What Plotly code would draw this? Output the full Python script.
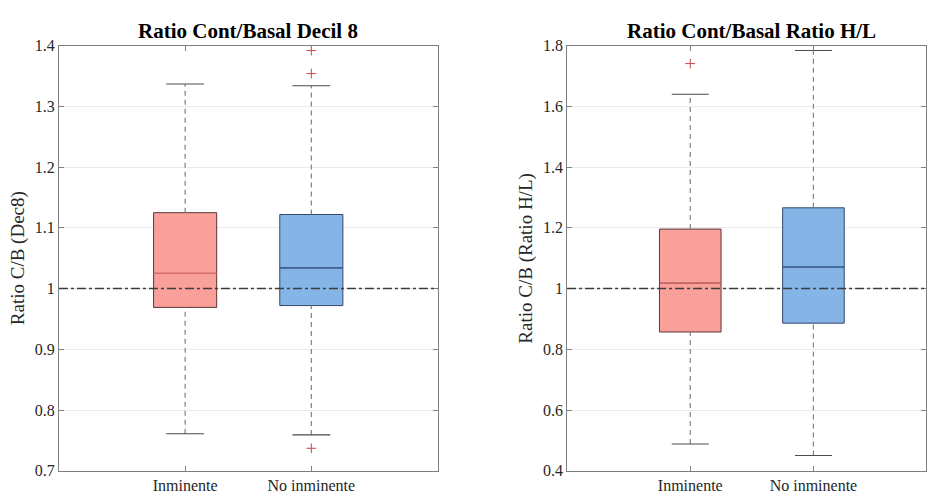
import plotly.graph_objects as go

# ---------------- data ----------------
categories = ["Inminente", "No inminente"]
positions = [1, 2]

dec8_q1 = [0.969, 0.972]
dec8_median = [1.025, 1.034]
dec8_q3 = [1.125, 1.122]
dec8_lower = [0.761, 0.759]
dec8_upper = [1.337, 1.334]
dec8_outliers = [[], [1.392, 1.354, 0.737]]

hl_q1 = [0.857, 0.886]
hl_median = [1.018, 1.071]
hl_q3 = [1.196, 1.266]
hl_lower = [0.488, 0.450]
hl_upper = [1.640, 1.784]
hl_outliers = [[1.741], []]

reference_value = 1.0

dec8_ticks = [0.7, 0.8, 0.9, 1.0, 1.1, 1.2, 1.3, 1.4]
dec8_ticktext = ["0.7", "0.8", "0.9", "1", "1.1", "1.2", "1.3", "1.4"]
hl_ticks = [0.4, 0.6, 0.8, 1.0, 1.2, 1.4, 1.6, 1.8]
hl_ticktext = ["0.4", "0.6", "0.8", "1", "1.2", "1.4", "1.6", "1.8"]

titles = ["Ratio Cont/Basal Decil 8", "Ratio Cont/Basal Ratio H/L"]
ylabels = ["Ratio C/B (Dec8)", "Ratio C/B (Ratio H/L)"]

# ---------------- styles ----------------
FONT = "Liberation Serif, Times New Roman, serif"
fills = ["#F9A09B", "#85B5E6"]
edges = ["#5E3434", "#34476A"]
medians = ["#D46A6A", "#3B5A93"]
W = 927
H = 501

fig = go.Figure()


def add_panel(xa, ya, q1, med, q3, lo, up, outl):
    for i, p in enumerate(positions):
        fig.add_trace(go.Box(
            x=[p], q1=[q1[i]], median=[med[i]], q3=[q3[i]],
            lowerfence=[q1[i]], upperfence=[q3[i]],
            width=0.5, whiskerwidth=0, fillcolor=fills[i],
            line=dict(color=edges[i], width=1),
            boxpoints=False, showlegend=False, hoverinfo="skip",
            xaxis=xa, yaxis=ya))
        # median line
        fig.add_trace(go.Scatter(
            x=[p - 0.25, p + 0.25], y=[med[i], med[i]], mode="lines",
            line=dict(color=medians[i], width=1.2),
            showlegend=False, hoverinfo="skip", xaxis=xa, yaxis=ya))
        # whiskers (dashed)
        fig.add_trace(go.Scatter(
            x=[p, p, None, p, p], y=[lo[i], q1[i], None, q3[i], up[i]],
            mode="lines", line=dict(color="#808080", width=1.2, dash="5px,4px"),
            showlegend=False, hoverinfo="skip", xaxis=xa, yaxis=ya))
        # caps
        fig.add_trace(go.Scatter(
            x=[p - 0.15, p + 0.15, None, p - 0.15, p + 0.15],
            y=[up[i], up[i], None, lo[i], lo[i]],
            mode="lines", line=dict(color="#4A4A4A", width=1.1),
            showlegend=False, hoverinfo="skip", xaxis=xa, yaxis=ya))
        if outl[i]:
            fig.add_trace(go.Scatter(
                x=[p] * len(outl[i]), y=outl[i], mode="markers",
                marker=dict(symbol="cross-thin", size=7,
                            line=dict(color="#C8464B", width=1)),
                showlegend=False, hoverinfo="skip", xaxis=xa, yaxis=ya))
    fig.add_shape(type="line", xref=f"{xa} domain", x0=0, x1=1,
                  yref=ya, y0=reference_value, y1=reference_value,
                  line=dict(color="#3C3C3C", width=1.5, dash="dashdot"))


add_panel("x", "y", dec8_q1, dec8_median, dec8_q3, dec8_lower, dec8_upper, dec8_outliers)
add_panel("x2", "y2", hl_q1, hl_median, hl_q3, hl_lower, hl_upper, hl_outliers)

ydom = [(H - 479) / H, (H - 39) / H]
axis_common = dict(showline=True, linecolor="#7F7F7F", linewidth=1, mirror="ticks",
                   ticks="inside", ticklen=5, tickcolor="#7F7F7F",
                   tickfont=dict(family=FONT, size=16, color="#262626"),
                   zeroline=False)

fig.update_layout(
    width=W, height=H,
    margin=dict(l=0, r=0, t=0, b=0),
    paper_bgcolor="white", plot_bgcolor="white",
    xaxis=dict(domain=[59 / W, 438 / W], range=[0, 3], tickvals=positions,
               ticktext=categories, showgrid=False, anchor="y", **axis_common),
    yaxis=dict(domain=ydom, range=[0.7, 1.4], tickvals=dec8_ticks,
               ticktext=dec8_ticktext, showgrid=True, gridcolor="#EBEBEB",
               anchor="x", **axis_common),
    xaxis2=dict(domain=[567.7 / W, 1.0], range=[0, (W - 567.7) / 123.3],
                tickvals=positions, ticktext=categories, showgrid=False,
                anchor="y2", **axis_common),
    yaxis2=dict(domain=ydom, range=[0.4, 1.8], tickvals=hl_ticks,
                ticktext=hl_ticktext, showgrid=True, gridcolor="#EBEBEB",
                anchor="x2", **axis_common),
)

for xa, t in zip(["x", "x2"], titles):
    fig.add_annotation(text=f"<b>{t}</b>", xref=xa, x=1.5, yref="paper",
                       y=1 - 24 / H, yanchor="middle", showarrow=False,
                       font=dict(family=FONT, size=21, color="black"))

for xpix, lab in zip([18, 527], ylabels):
    fig.add_annotation(text=lab, xref="paper", x=xpix / W, yref="paper",
                       y=1 - 259 / H, xanchor="center", yanchor="middle",
                       textangle=-90, showarrow=False,
                       font=dict(family=FONT, size=19, color="#262626"))

fig.write_html(
    "out.html",
    config={"displayModeBar": False},
    post_script="document.body.style.margin='0';document.body.style.overflow='hidden';",
)
